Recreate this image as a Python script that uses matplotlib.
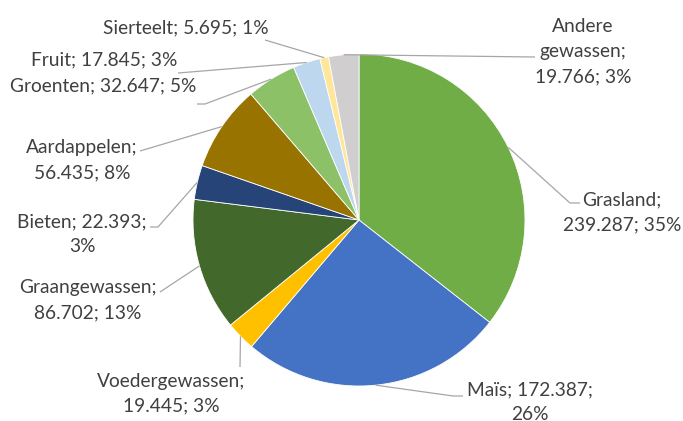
import matplotlib
matplotlib.use("Agg")
import matplotlib.pyplot as plt
import numpy as np

# ---- data (clockwise from 12 o'clock) ----
categories = ["Grasland", "Maïs", "Voedergewassen", "Graangewassen", "Bieten",
              "Aardappelen", "Groenten", "Fruit", "Sierteelt", "Andere gewassen"]
values = [239287, 172387, 19445, 86702, 22393, 56435, 32647, 17845, 5695, 19766]
percent_labels = [35, 26, 3, 13, 3, 8, 5, 3, 1, 3]
colors = ["#70AD47", "#4472C4", "#FFC000", "#43682B", "#264478",
          "#997300", "#8CC168", "#BDD7EE", "#FFE699", "#D0CECE"]

def fmt(v):
    return f"{v:,}".replace(",", ".")

# label texts with Excel-like line breaks
label_lines = {
    "Grasland": ["Grasland;", "{v}; {p}%"],
    "Maïs": ["Maïs; {v};", "{p}%"],
    "Voedergewassen": ["Voedergewassen;", "{v}; {p}%"],
    "Graangewassen": ["Graangewassen;", "{v}; {p}%"],
    "Bieten": ["Bieten; {v};", "{p}%"],
    "Aardappelen": ["Aardappelen;", "{v}; {p}%"],
    "Groenten": ["Groenten; {v}; {p}%"],
    "Fruit": ["Fruit; {v}; {p}%"],
    "Sierteelt": ["Sierteelt; {v}; {p}%"],
    "Andere gewassen": ["Andere", "gewassen;", "{v}; {p}%"],
}
# layout: label centre x, first line centre y, leader path (before reaching wedge)
label_pos = {
    "Grasland": (622, 200, [(580, 203), (570, 203)]),
    "Maïs": (530, 390, [(463, 396), (453, 396)]),
    "Voedergewassen": (171, 381, [(240, 367)]),
    "Graangewassen": (88, 288, [(160, 292)]),
    "Bieten": (82, 222, [(150, 227), (158, 227)]),
    "Aardappelen": (82, 148, [(140, 151)]),
    "Groenten": (103, 86, [(197, 104), (205, 104)]),
    "Fruit": (104, 60, [(178, 73)]),
    "Sierteelt": (186, 28, [(265, 40)]),
    "Andere gewassen": (583, 27, [(535, 57)]),
}

W, H = 683, 421
fig = plt.figure(figsize=(W / 100, H / 100), dpi=100)
ax = fig.add_axes([0, 0, 1, 1])

cx, cy, r = 359, 220, 166
# y axis is inverted below, so start at -90 and go counter-clockwise in data space
wedges, _ = ax.pie(values, colors=colors, startangle=-90, counterclock=True,
                   center=(cx, cy), radius=r,
                   wedgeprops=dict(edgecolor="white", linewidth=0.6))

ax.set_xlim(0, W)
ax.set_ylim(H, 0)
ax.set_aspect("equal")
ax.axis("off")

txt_color = "#404040"
line_color = "#A6A6A6"
fs = 13.8
lh = 25

for cat, v, p, w in zip(categories, values, percent_labels, wedges):
    x0, y0, path = label_pos[cat]
    lines = [s.format(v=fmt(v), p=p) for s in label_lines[cat]]
    for i, s in enumerate(lines):
        ax.text(x0, y0 + i * lh, s, ha="center", va="center", fontsize=fs,
                color=txt_color, family=["Lato", "DejaVu Sans"])
    mid = np.deg2rad((w.theta1 + w.theta2) / 2)
    ex, ey = cx + r * np.cos(mid), cy + r * np.sin(mid)
    xs = [pt[0] for pt in path] + [ex]
    ys = [pt[1] for pt in path] + [ey]
    ax.plot(xs, ys, color=line_color, lw=0.9, solid_capstyle="butt")

fig.savefig("out.png", dpi=100)
